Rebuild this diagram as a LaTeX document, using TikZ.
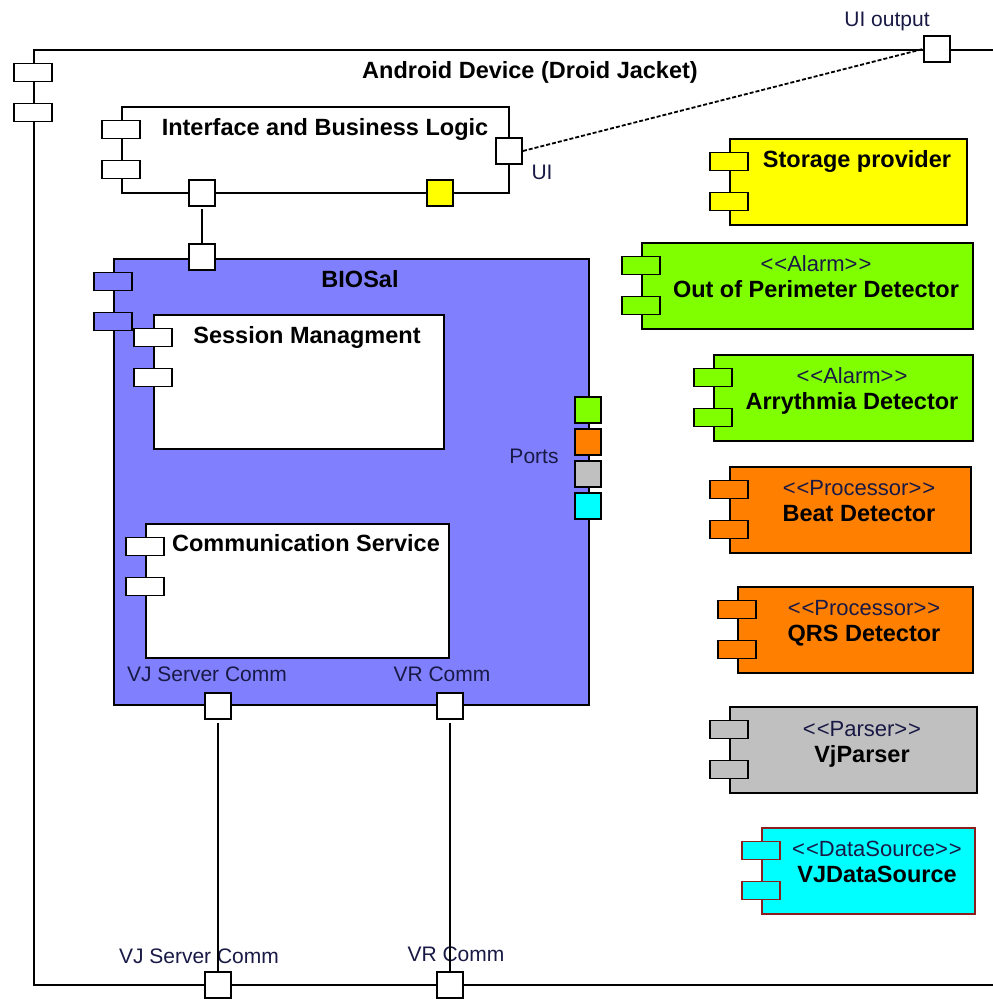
\documentclass[tikz,border=0pt]{standalone}
\usepackage{fontspec}
\setmainfont{Liberation Sans}
\usetikzlibrary{calc}

\definecolor{biosal}{RGB}{128,128,255}
\definecolor{alarmgreen}{RGB}{128,255,0}
\definecolor{procorange}{RGB}{255,128,0}
\definecolor{parsergray}{RGB}{192,192,192}
\definecolor{srccyan}{RGB}{0,255,255}
\definecolor{storeyellow}{RGB}{255,255,0}
\definecolor{srcborder}{RGB}{140,30,30}
\definecolor{labelink}{RGB}{25,25,70}

\tikzset{
  umlbox/.style={draw=black, line width=1.8pt, inner sep=0pt, rectangle, fill=white},
  umlglyph/.style={umlbox, minimum width=38pt, minimum height=18pt},
  portsq/.style={umlbox, minimum width=26pt, minimum height=26pt},
  ttl/.style={font=\fontsize{23.5}{28}\selectfont\bfseries, inner sep=0pt,
              text height=0.75em, text depth=0.22em, yshift=-5pt},
  stereo/.style={font=\fontsize{22}{26}\selectfont, text=labelink, inner sep=0pt,
              text height=0.75em, text depth=0.22em, yshift=-5pt},
  plabel/.style={font=\fontsize{21}{25}\selectfont, text=labelink, inner sep=0pt,
              text height=0.75em, text depth=0.22em, yshift=-5pt},
  wire/.style={line width=1.8pt},
}

% UML stereotype guillemets written as doubled angle brackets
\newcommand\stype[1]{<\kern1pt<#1>\kern1pt>}

% component body with its two interface glyphs on the left edge
% #1 name, #2 left, #3 top, #4 right, #5 bottom, #6 extra style
\newcommand\umlpart[6]{%
  \node[umlbox,#6,anchor=north west,minimum width={#4-#2},minimum height={#5-#3}] (#1) at (#2,#3) {};
  \node[umlglyph,#6] (#1-a) at (#2,#3+23.5) {};
  \node[umlglyph,#6] (#1-b) at (#2,#3+63.5) {};
}

\begin{document}
\begin{tikzpicture}[x=1pt,y=-1pt]
\path[use as bounding box] (0,0) rectangle (993,999);
\clip (0,0) rectangle (993,999);

% device frame
\umlpart{dev}{33}{49}{1009}{984}{}
\node[ttl] (devt) at (530,71) {Android Device (Droid Jacket)};

% interface and business logic
\umlpart{ibl}{121}{106}{508}{192}{}
\node[ttl] (iblt) at (325,128) {Interface and Business Logic};

% BIOSal
\umlpart{bio}{113}{258}{588}{704}{fill=biosal}
\node[ttl] (biot) at (360,280) {BIOSal};

\umlpart{ses}{153}{314}{443}{448}{}
\node[ttl] (sest) at (307,336) {Session Managment};

\umlpart{com}{145}{523}{448}{657}{}
\node[ttl] (comt) at (306,544) {Communication Service};

% plug-in components
\umlpart{sto}{729}{138}{966}{224}{fill=storeyellow}
\node[ttl] (stot) at (857,160) {Storage provider};

\umlpart{oop}{641}{242}{972}{328}{fill=alarmgreen}
\node[stereo] (oops) at (816,264) {\stype{Alarm}};
\node[ttl] (oopt) at (816,290) {Out of Perimeter Detector};

\umlpart{arr}{713}{354}{972}{440}{fill=alarmgreen}
\node[stereo] (arrs) at (852,376) {\stype{Alarm}};
\node[ttl] (arrt) at (852,402) {Arrythmia Detector};

\umlpart{beat}{729}{466}{970}{552}{fill=procorange}
\node[stereo] (beats) at (859,488) {\stype{Processor}};
\node[ttl] (beatt) at (859,514) {Beat Detector};

\umlpart{qrs}{737}{586}{972}{672}{fill=procorange}
\node[stereo] (qrss) at (864,608) {\stype{Processor}};
\node[ttl] (qrst) at (864,634) {QRS Detector};

\umlpart{vjp}{729}{706}{976}{792}{fill=parsergray}
\node[stereo] (vjps) at (862,729) {\stype{Parser}};
\node[ttl] (vjpt) at (862,755) {VjParser};

\umlpart{vjd}{761}{827}{974}{913}{fill=srccyan,draw=srcborder}
\node[stereo] (vjds) at (877,849) {\stype{DataSource}};
\node[ttl] (vjdt) at (877,875) {VJDataSource};

% ports
\node[portsq] (uiout) at (937,49) {};
\node[plabel] (uioutl) at (887,19) {UI output};

\node[portsq] (iui) at (509,151) {};
\node[plabel] (iuil) at (542,172) {UI};
\node[portsq] (iport) at (202,193) {};
\node[portsq,fill=storeyellow] (iyel) at (440,193) {};

\node[portsq] (btop) at (202,257) {};
\node[portsq,fill=alarmgreen] (pgreen) at (588,410) {};
\node[portsq,fill=procorange] (porange) at (588,442) {};
\node[portsq,fill=parsergray] (pgray) at (588,474) {};
\node[portsq,fill=srccyan] (pcyan) at (588,506) {};
\node[plabel] (portsl) at (534,456) {Ports};

\node[portsq] (bvj) at (218,706) {};
\node[portsq] (bvr) at (450,706) {};
\node[plabel] (bvjl) at (207,674) {VJ Server Comm};
\node[plabel] (bvrl) at (442,674) {VR Comm};

\node[portsq] (dvj) at (218,985) {};
\node[portsq] (dvr) at (450,985) {};
\node[plabel] (dvjl) at (199,956) {VJ Server Comm};
\node[plabel] (dvrl) at (456,954) {VR Comm};

% connectors
\draw[wire] ([yshift=-2pt]iport.south) -- (btop.north);
\draw[wire, dash pattern=on 4pt off 2pt] (iui.east) -- (uiout.west);
\draw[wire] ([yshift=-3pt]bvj.south) -- (dvj.north);
\draw[wire] ([yshift=-3pt]bvr.south) -- (dvr.north);
\end{tikzpicture}
\end{document}
